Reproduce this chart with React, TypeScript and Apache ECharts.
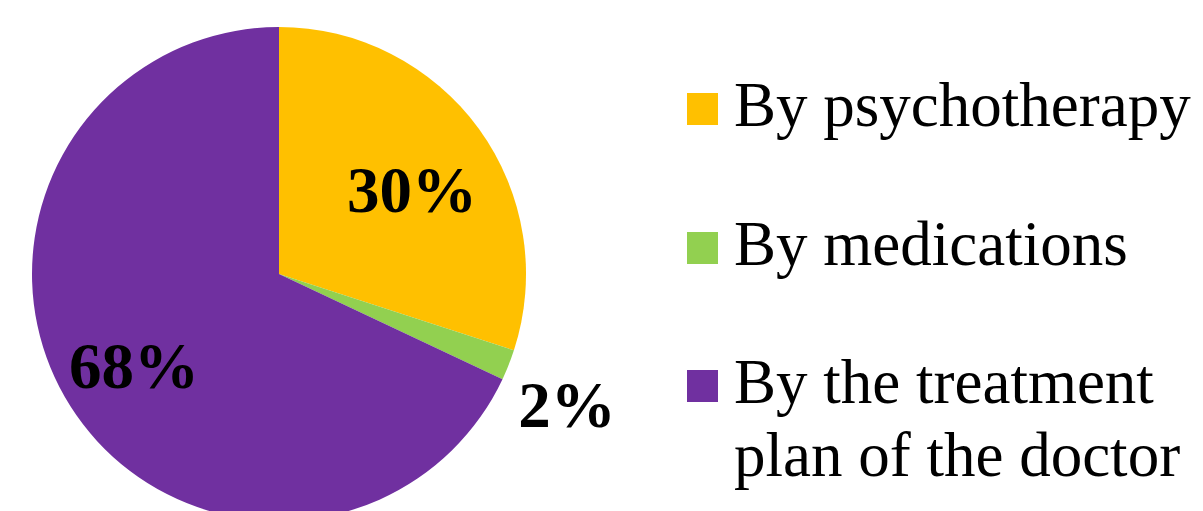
import React, { useEffect, useRef } from "react";
import * as echarts from "echarts";

const categories = ["By psychotherapy", "By medications", "By the treatment\nplan of the doctor"];
const values = [30, 2, 68];
const colors = ["#FFC000", "#92D050", "#7030A0"];
const labelTexts = ["30%", "2%", "68%"];

const FONT = "'Times New Roman', 'Liberation Serif', serif";

export default function App() {
  const ref = useRef<HTMLDivElement>(null);
  useEffect(() => {
    if (!ref.current) return;
    const chart = echarts.init(ref.current, null, { renderer: "svg" });
    const labelPos = [
      [412, 190],
      [567, 405],
      [134, 366],
    ];
    const legendY = [109, 248, 386];
    const graphic: any[] = [];
    categories.forEach((c, i) => {
      graphic.push({
        type: "rect",
        shape: { x: 687, y: legendY[i] - 16, width: 31, height: 32 },
        style: { fill: colors[i] },
      });
      graphic.push({
        type: "text",
        x: 734,
        y: legendY[i] - 41,
        style: {
          text: c,
          fill: "#000",
          fontSize: 63,
          fontFamily: FONT,
          verticalAlign: "top",
          lineHeight: 73,
        },
      });
    });
    chart.setOption({
      animation: false,
      graphic,
      series: [
        {
          type: "pie",
          center: [279, 274],
          radius: 247,
          startAngle: 90,
          clockwise: true,
          silent: true,
          data: categories.map((c, i) => ({
            name: c,
            value: values[i],
            itemStyle: { color: colors[i] },
          })),
          label: {
            show: true,
            position: "inside",
            formatter: (p: any) => labelTexts[p.dataIndex],
            fontFamily: FONT,
            fontWeight: "bold",
            fontSize: 65,
            color: "#000",
          },
          labelLine: { show: false },
          labelLayout: (p: any) => ({
            x: labelPos[p.dataIndex][0],
            y: labelPos[p.dataIndex][1],
            align: "center",
            verticalAlign: "middle",
          }),
        },
      ],
    });
    return () => chart.dispose();
  }, []);
  return (
    <div
      ref={ref}
      style={{ position: "absolute", left: 0, top: 0, width: 1203, height: 511, background: "#fff" }}
    />
  );
}
